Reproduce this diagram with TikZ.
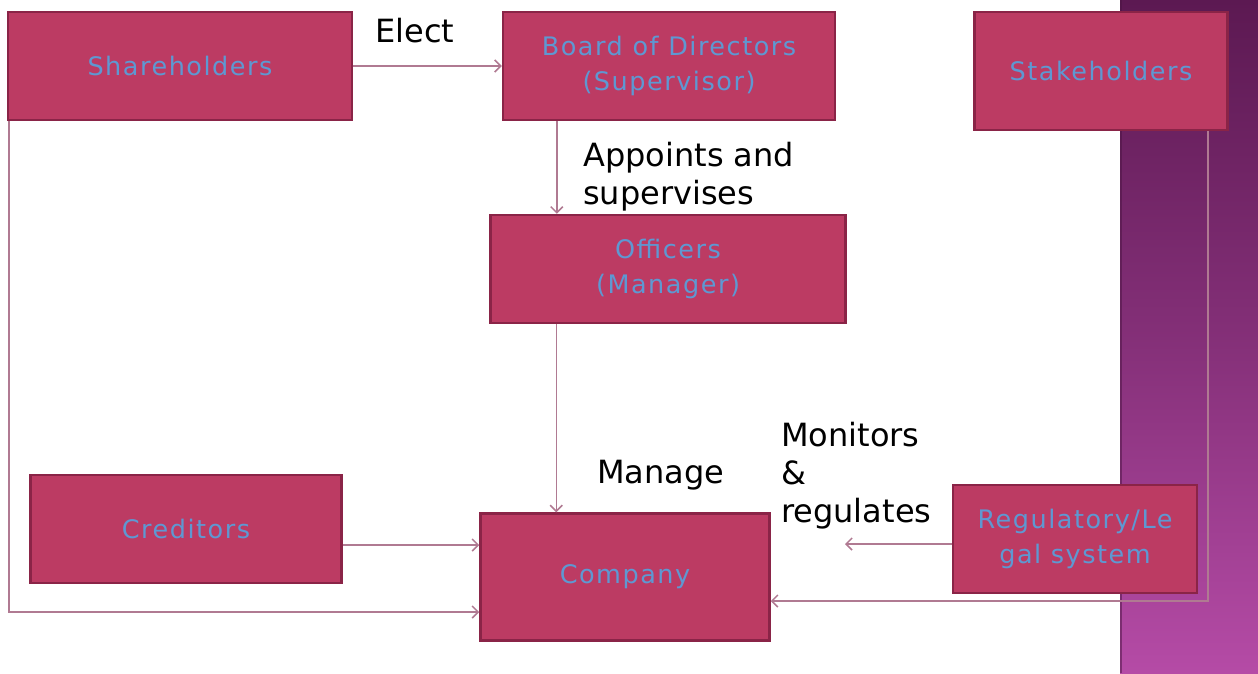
\documentclass[tikz,border=0pt]{standalone}
\usepackage{fontspec}
\setmainfont{DejaVu Sans}
\newfontfamily\boxfont[LetterSpace=6]{DejaVu Sans}
\usetikzlibrary{arrows.meta,calc}
\definecolor{boxfill}{HTML}{BC3B63}
\definecolor{boxline}{HTML}{8A2447}
\definecolor{boxtext}{HTML}{5E98D2}
\definecolor{conncol}{HTML}{B07A92}
\definecolor{striptop}{HTML}{5C1952}
\definecolor{stripbot}{HTML}{B54BA6}
\tikzset{
  orgbox/.style={draw=boxline, fill=boxfill, line width=2.5pt, inner sep=0pt,
    text=boxtext, font=\boxfont\fontsize{25.5}{35}\selectfont, align=center},
  conn/.style={draw=conncol, line width=1.5pt, -{Straight Barb[length=6pt,width=12pt]}},
  lbl/.style={inner sep=0pt, text=black, font=\fontsize{32}{38}\selectfont, align=left}
}
\begin{document}
\begin{tikzpicture}[x=1pt,y=-1pt]
\useasboundingbox (0,0) rectangle (1258,673);
\fill[white] (0,0) rectangle (1258,673);
\shade[top color=striptop, bottom color=stripbot, middle color=striptop!55!stripbot] (1120,0) rectangle (1258,673);
\draw[line width=2pt, striptop!80!black, opacity=0.5] (1121,0) -- (1121,673);

% boxes
\node[orgbox, minimum width=344pt, minimum height=108pt] (sh) at (180,66) {Shareholders};
\node[orgbox, minimum width=332pt, minimum height=108pt] (bd) at (669,66) {Board of Directors\\(Supervisor)};
\node[orgbox, minimum width=253pt, minimum height=118pt] (sk) at (1101,71) {Stakeholders};
\node[orgbox, minimum width=355pt, minimum height=108pt] (of) at (668,269) {Officers\\(Manager)};
\node[orgbox, minimum width=311pt, minimum height=108pt] (cr) at (186,529) {Creditors};
\node[orgbox, minimum width=289pt, minimum height=127pt] (co) at (625,577) {Company};
\node[orgbox, minimum width=244pt, minimum height=108pt] (rg) at (1075,539) {Regulatory/Le\\gal system};

\coordinate (mr) at (845,544);

% connectors
\draw[conn] (sh.east) -- (bd.west);
\draw[conn] ([xshift=55pt]bd.south west) -- ([xshift=55pt]bd.south west |- of.north);
\draw[conn] ([xshift=67pt]of.south west) -- ([xshift=67pt]of.south west |- co.north);
\draw[conn] ([yshift=-16pt]cr.east) -- ([yshift=-16pt]cr.east -| co.west);
\draw[conn] ([xshift=2pt]sh.south west) |- ([yshift=-35pt]co.west);
\draw[conn] ([yshift=-5pt]rg.west) -- (mr);
\draw[conn] ([xshift=-21pt]sk.south east) |- ([yshift=-24pt]co.east);

% labels
\node[lbl, anchor=base west] (lelect) at (375,42) {Elect};
\node[lbl, anchor=north west] (lappoint) at (583,142) {Appoints and\\supervises};
\node[lbl, anchor=base west] (lmanage) at (597,483) {Manage};
\node[lbl, anchor=north west] (lmon) at (781,422) {Monitors\\\&\\regulates};
\end{tikzpicture}
\end{document}
